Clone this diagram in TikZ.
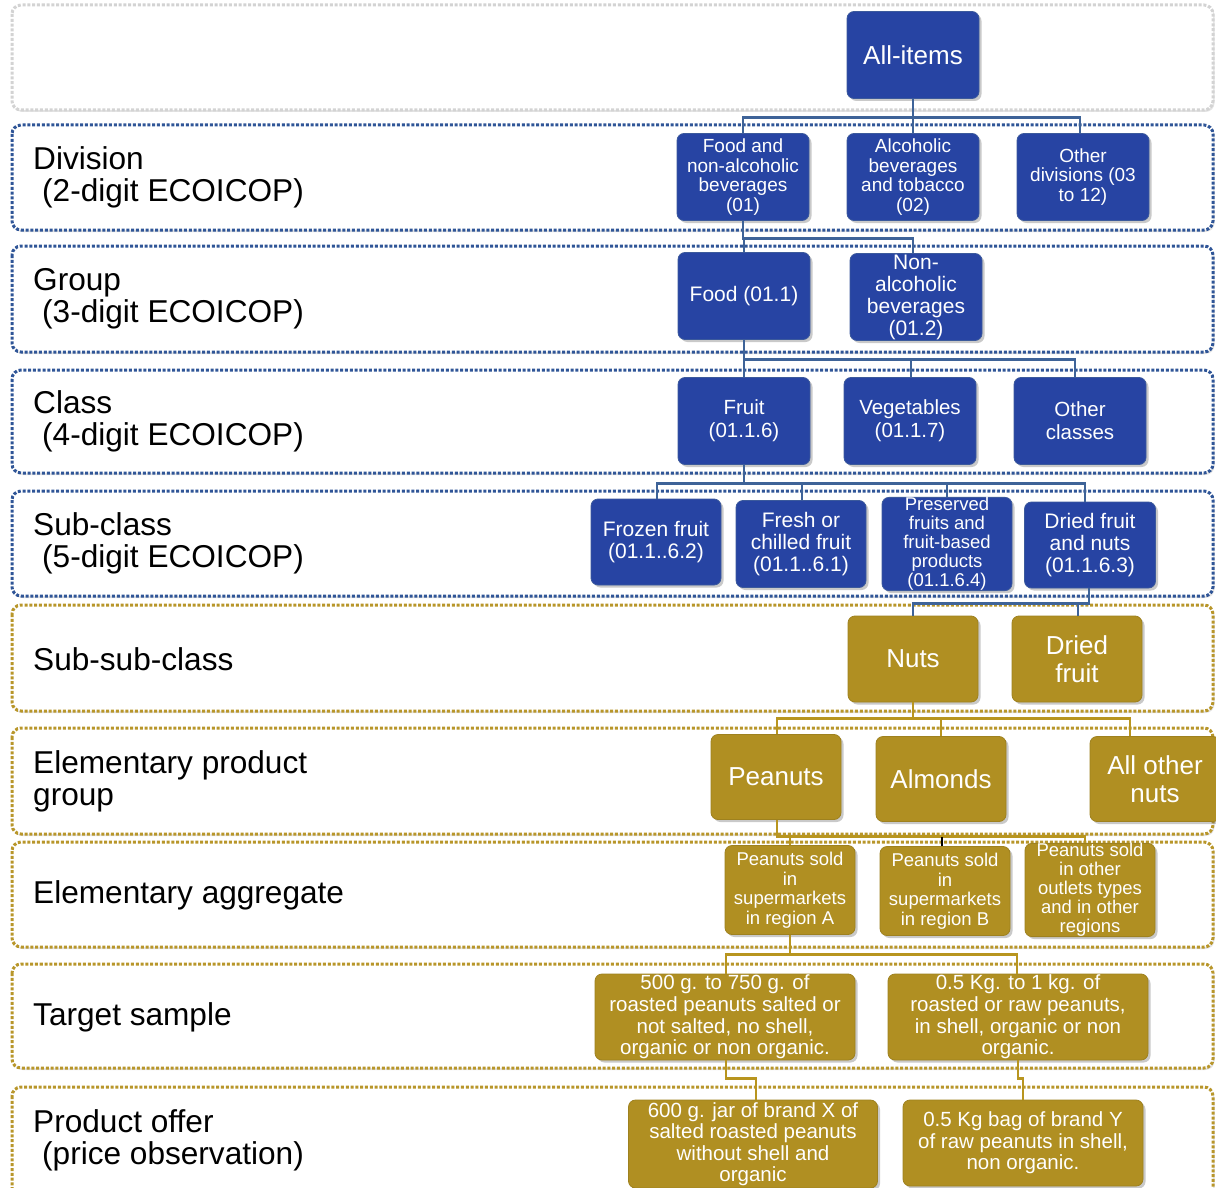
\documentclass[tikz,border=0pt]{standalone}
\usepackage{fontspec}
\setmainfont{Liberation Sans}
\usetikzlibrary{shadows}
\definecolor{boxblue}{HTML}{2744A3}
\definecolor{boxblueedge}{HTML}{3C5A9C}
\definecolor{boxgold}{HTML}{B08F22}
\definecolor{linkblue}{HTML}{3E6398}
\definecolor{linkgold}{HTML}{B8951F}
\definecolor{dotblue}{HTML}{2F5597}
\definecolor{dotgold}{HTML}{B8962A}
\definecolor{dotgrey}{HTML}{D3D3D3}

\begin{document}
\begin{tikzpicture}[x=1pt,y=-1pt,
  band/.style={rounded corners=9pt, line width=3pt, dash pattern=on 3pt off 1.8pt,
    fill=white, drop shadow={shadow xshift=1.5pt, shadow yshift=-2pt, opacity=0.18, fill=black!60}},
  bandgrey/.style={band, draw=dotgrey},
  bandblue/.style={band, draw=dotblue},
  bandgold/.style={band, draw=dotgold},
  lvl/.style={anchor=west, align=left, text=black, font=\fontsize{31.6}{32}\selectfont, inner sep=0pt},
  cat/.style={rounded corners=7pt, text=white, align=center, inner sep=0pt,
    minimum width=132pt, minimum height=87pt, line width=0.8pt,
    drop shadow={shadow xshift=2.5pt, shadow yshift=-2.5pt, opacity=0.35, fill=black!60}},
  bluecat/.style={cat, fill=boxblue, draw=boxblueedge},
  goldcat/.style={cat, fill=boxgold, draw=boxgold!90!black},
  link/.style={line width=2.8pt},
  bluelink/.style={link, draw=linkblue},
  goldlink/.style={link, draw=linkgold},
]
\useasboundingbox (0,0) rectangle (1216,1188);
\clip (0,0) rectangle (1216,1188);

% level bands
\draw[bandgrey] (12,5) rectangle (1213,110);
\draw[bandblue] (12,125) rectangle (1213,230);
\draw[bandblue] (12,246) rectangle (1213,352);
\draw[bandblue] (12,370) rectangle (1213,473);
\draw[bandblue] (12,491) rectangle (1213,596);
\draw[bandgold] (12,605) rectangle (1213,711);
\draw[bandgold] (12,728) rectangle (1213,834);
\draw[bandgold] (12,842) rectangle (1213,947);
\draw[bandgold] (12,964) rectangle (1213,1068);
\draw[bandgold] (12,1087) rectangle (1213,1200);

% level names
\node[lvl] (lDiv) at (33,177) {Division\\\hspace*{9pt}(2-digit ECOICOP)};
\node[lvl] (lGrp) at (33,299) {Group\\\hspace*{9pt}(3-digit ECOICOP)};
\node[lvl] (lCls) at (33,421) {Class\\\hspace*{9pt}(4-digit ECOICOP)};
\node[lvl] (lSub) at (33,543) {Sub-class\\\hspace*{9pt}(5-digit ECOICOP)};
\node[lvl] (lSsc) at (33,659) {Sub-sub-class};
\node[lvl] (lEpg) at (33,781) {Elementary product\\group};
\node[lvl] (lEag) at (33,895) {Elementary aggregate};
\node[lvl] (lTgt) at (33,1017) {Target sample};
\node[lvl] (lOff) at (33,1140) {Product offer\\\hspace*{9pt}(price observation)};

% ECOICOP hierarchy
\node[bluecat, font=\fontsize{26}{28}\selectfont] (all) at (913,55) {All-items};

\node[bluecat, font=\fontsize{19}{19.5}\selectfont] (d01) at (743,177) {Food and\\non-alcoholic\\beverages\\(01)};
\node[bluecat, font=\fontsize{19}{19.5}\selectfont] (d02) at (913,177) {Alcoholic\\beverages\\and tobacco\\(02)};
\node[bluecat, font=\fontsize{19}{19.5}\selectfont] (d03) at (1083,177) {Other\\divisions (03\\to 12)};

\node[bluecat, font=\fontsize{21}{22}\selectfont] (g1) at (744,296) {Food (01.1)};
\node[bluecat, font=\fontsize{21}{22}\selectfont] (g2) at (916,297) {Non-\\alcoholic\\beverages\\(01.2)};

\node[bluecat, font=\fontsize{20.5}{23}\selectfont] (c1) at (744,421) {Fruit\\(01.1.6)};
\node[bluecat, font=\fontsize{20.5}{23}\selectfont] (c2) at (910,421) {Vegetables\\(01.1.7)};
\node[bluecat, font=\fontsize{20.5}{23}\selectfont] (c3) at (1080,421) {Other\\classes};

\node[bluecat, minimum width=130pt, minimum height=86pt, font=\fontsize{21}{22}\selectfont] (s1) at (656,542) {Frozen fruit\\(01.1..6.2)};
\node[bluecat, minimum width=130pt, minimum height=87pt, font=\fontsize{21}{22}\selectfont] (s2) at (801,544) {Fresh or\\chilled fruit\\(01.1..6.1)};
\node[bluecat, minimum width=130pt, minimum height=87pt, font=\fontsize{18.5}{19}\selectfont] (s3) at (947,544) {Preserved\\fruits and\\fruit-based\\products\\(01.1.6.4)};
\node[bluecat, minimum width=131pt, minimum height=86pt, font=\fontsize{21}{22}\selectfont] (s4) at (1090,545) {Dried fruit\\and nuts\\(01.1.6.3)};

% product tree below ECOICOP
\node[goldcat, minimum width=130pt, minimum height=86pt, font=\fontsize{26}{28}\selectfont] (nuts) at (913,659) {Nuts};
\node[goldcat, minimum width=130pt, minimum height=86pt, font=\fontsize{26}{28}\selectfont] (dried) at (1077,659) {Dried\\fruit};

\node[goldcat, minimum width=130pt, minimum height=85pt, font=\fontsize{26}{28}\selectfont] (pea) at (776,777) {Peanuts};
\node[goldcat, minimum width=130pt, minimum height=85pt, font=\fontsize{26}{28}\selectfont] (alm) at (941,779) {Almonds};
\node[goldcat, minimum width=130pt, minimum height=85pt, font=\fontsize{26}{28}\selectfont] (oth) at (1155,779) {All other\\nuts};

\node[goldcat, minimum width=130pt, minimum height=89pt, font=\fontsize{18.5}{19.5}\selectfont] (ea1) at (790,890) {Peanuts sold\\in\\supermarkets\\in region A};
\node[goldcat, minimum width=130pt, minimum height=89pt, font=\fontsize{18.5}{19.5}\selectfont] (ea2) at (945,891) {Peanuts sold\\in\\supermarkets\\in region B};
\node[goldcat, minimum width=130pt, minimum height=89pt, font=\fontsize{18.5}{19}\selectfont] (ea3) at (1090,890) {Peanuts sold\\in other\\outlets types\\and in other\\regions};

\node[goldcat, minimum width=260pt, minimum height=86pt, font=\fontsize{20.5}{21.7}\selectfont] (ts1) at (725,1017) {500 g. to 750 g. of\\roasted peanuts salted or\\not salted, no shell,\\organic or non organic.};
\node[goldcat, minimum width=260pt, minimum height=86pt, font=\fontsize{20.5}{21.7}\selectfont] (ts2) at (1018,1017) {0.5 Kg. to 1 kg. of\\roasted or raw peanuts,\\in shell, organic or non\\organic.};

\node[goldcat, minimum width=249pt, minimum height=88pt, font=\fontsize{20.5}{21.5}\selectfont] (po1) at (753,1144) {600 g. jar of brand X of\\salted roasted peanuts\\without shell and\\organic};
\node[goldcat, minimum width=240pt, minimum height=86pt, font=\fontsize{20.5}{21.5}\selectfont] (po2) at (1023,1143) {0.5 Kg bag of brand Y\\of raw peanuts in shell,\\non organic.};

% connectors
\foreach \c/\dx in {d01/0, d02/0, d03/-3}
  \draw[bluelink] (all.south) -- ++(0,18.5) -| ([xshift=\dx pt]\c.north);
\foreach \c/\dx in {g1/0, g2/-3}
  \draw[bluelink] (d01.south) -- ++(0,17.5) -| ([xshift=\dx pt]\c.north);
\foreach \c/\dx in {c1/0, c2/1, c3/-5}
  \draw[bluelink] (g1.south) -- ++(0,19.5) -| ([xshift=\dx pt]\c.north);
\foreach \c/\dx in {s1/1, s2/1, s3/0, s4/-5}
  \draw[bluelink] (c1.south) -- ++(0,18.5) -| ([xshift=\dx pt]\c.north);
\foreach \c/\dx in {nuts/0, dried/1}
  \draw[bluelink] ([xshift=-1pt]s4.south) -- ++(0,15) -| ([xshift=\dx pt]\c.north);

\foreach \c/\dx in {pea/1, alm/0, oth/-25}
  \draw[goldlink] (nuts.south) -- ++(0,16) -| ([xshift=\dx pt]\c.north);
\foreach \c/\dx in {ea1/0, ea2/-3, ea3/-5}
  \draw[goldlink] ([xshift=1pt]pea.south) -- ++(0,16.5) -| ([xshift=\dx pt]\c.north);
\draw[line width=2.8pt, black] ([xshift=-3pt]ea2.north) -- ++(0,-9);
\foreach \c/\dx in {ts1/1, ts2/-1}
  \draw[goldlink] (ea1.south) -- ++(0,19.5) -| ([xshift=\dx pt]\c.north);
\draw[goldlink] ([xshift=1pt]ts1.south) -- ++(0,18) -| ([xshift=3pt]po1.north);
\draw[goldlink] (ts2.south) -- ++(0,18) -| (po2.north);
\end{tikzpicture}
\end{document}
